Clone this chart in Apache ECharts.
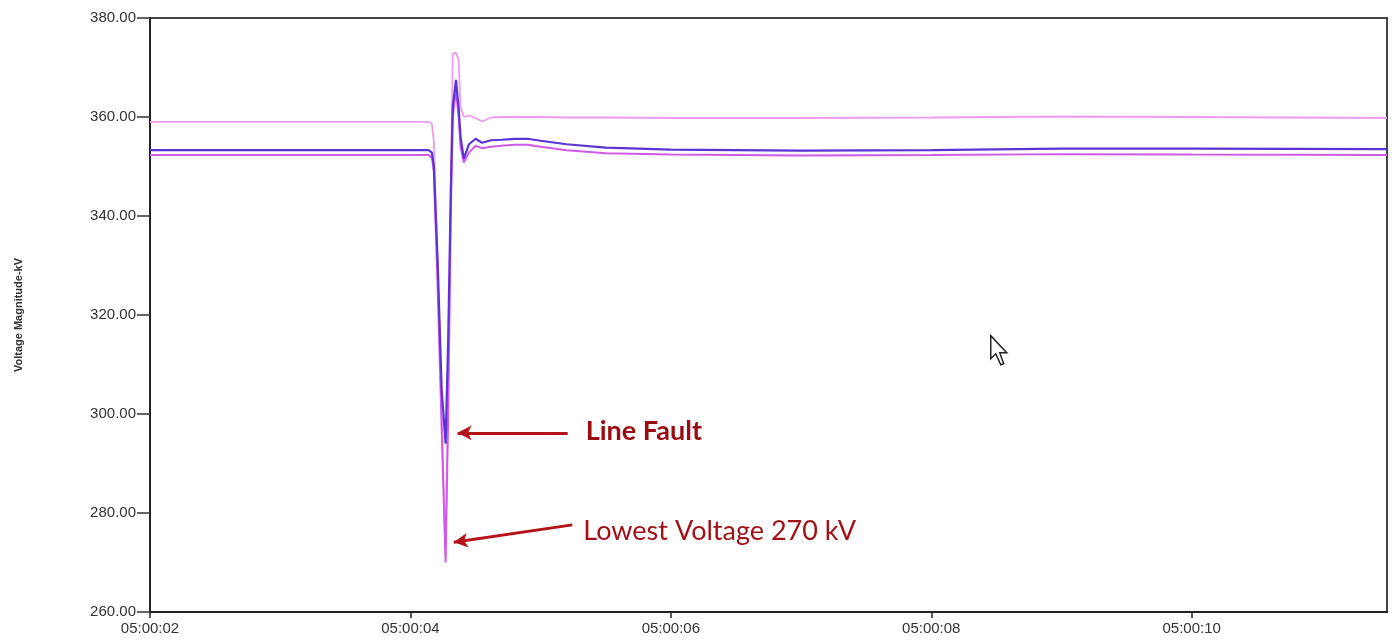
<!DOCTYPE html>
<html>
<head>
<meta charset="utf-8">
<script src="https://cdn.jsdelivr.net/npm/echarts@6/dist/echarts.min.js"></script>
<style>
html,body{margin:0;padding:0;background:#fff;}
#chart{width:1392px;height:641px;}
</style>
</head>
<body>
<div id="chart"></div>
<script>
// time in seconds after 05:00:00
const times = [2.00, 4.14, 4.165, 4.18, 4.21, 4.24, 4.27, 4.29, 4.31, 4.325, 4.35, 4.37, 4.385, 4.41, 4.45, 4.50, 4.55, 4.62, 4.70, 4.80, 4.90, 5.00, 5.20, 5.50, 6.00, 7.00, 8.00, 9.00, 10.00, 11.50];
const voltageUpper = [359.0, 359.0, 358.6, 355.0, 330.0, 300.0, 271.5, 305.0, 345.0, 372.8, 373.0, 371.5, 362.0, 360.0, 360.3, 359.8, 359.1, 359.9, 360.0, 360.0, 360.0, 360.0, 359.9, 359.9, 359.8, 359.8, 359.9, 360.1, 360.0, 359.8];
const voltageMiddle = [353.3, 353.3, 352.8, 350.0, 330.0, 305.0, 294.0, 315.0, 345.0, 362.0, 367.5, 362.0, 356.0, 351.6, 354.5, 355.6, 354.8, 355.3, 355.4, 355.6, 355.6, 355.2, 354.5, 353.8, 353.4, 353.2, 353.3, 353.6, 353.6, 353.5];
const voltageLower = [352.3, 352.3, 351.8, 349.0, 325.0, 297.0, 270.0, 300.0, 340.0, 360.0, 365.5, 360.0, 354.0, 350.8, 352.8, 354.2, 353.7, 354.0, 354.2, 354.4, 354.4, 354.0, 353.3, 352.7, 352.4, 352.2, 352.3, 352.5, 352.4, 352.3];
const yTicks = [260, 280, 300, 320, 340, 360, 380];
const xTickLabels = ['05:00:02', '05:00:04', '05:00:06', '05:00:08', '05:00:10'];
const annotationTexts = ['Line Fault', 'Lowest Voltage 270 kV'];
const annotationAnchors = [[5.346, 296.6], [5.328, 276.4]];
const arrowStarts = [[5.208, 296.2], [5.243, 277.6]];
const arrowEnds = [[4.362, 296.2], [4.333, 274.1]];

const chart = echarts.init(document.getElementById('chart'), null, {renderer: 'canvas'});
const pair = (vals) => times.map((t, i) => [t, vals[i]]);

const option = {
  animation: false,
  backgroundColor: '#ffffff',
  grid: {left: 150, right: 5, top: 18, bottom: 29, show: true, borderColor: '#444', borderWidth: 2, backgroundColor: 'transparent'},
  xAxis: {
    type: 'value', min: 2, max: 11.5, interval: 2,
    axisLine: {show: true, lineStyle: {color: '#222', width: 2}},
    axisTick: {show: true, length: 6, inside: false, lineStyle: {color: '#222', width: 1.5}},
    splitLine: {show: false},
    axisLabel: {
      showMaxLabel: false, margin: 9,
      fontFamily: 'Liberation Sans, Arial', fontSize: 15, color: '#333',
      formatter: (v) => { const i = Math.round((v - 2) / 2); return xTickLabels[i] || ''; }
    }
  },
  yAxis: {
    type: 'value', min: yTicks[0], max: yTicks[yTicks.length - 1], interval: 20,
    name: 'Voltage Magnitude-kV', nameLocation: 'middle', nameGap: 126, nameRotate: 90,
    nameTextStyle: {fontFamily: 'Liberation Sans, Arial', fontSize: 11, fontWeight: 'bold', color: '#333'},
    axisLine: {show: true, lineStyle: {color: '#222', width: 2}},
    axisTick: {show: true, length: 13, inside: false, lineStyle: {color: '#333', width: 1.5}},
    splitLine: {show: false},
    axisLabel: {margin: 14, fontFamily: 'Liberation Sans, Arial', fontSize: 15, color: '#333', formatter: (v) => v.toFixed(2)}
  },
  series: [
    {name: 'Upper phase', type: 'line', data: pair(voltageUpper), showSymbol: false, z: 2,
     lineStyle: {color: '#ee9cf0', width: 1.8}},
    {name: 'Lower phase', type: 'line', data: pair(voltageLower), showSymbol: false, z: 3,
     lineStyle: {color: '#cf5ae8', width: 2}},
    {name: 'Middle phase', type: 'line', data: pair(voltageMiddle), showSymbol: false, z: 4,
     lineStyle: {color: '#5a34d4', width: 2.2},
     markLine: {
       silent: true, symbol: ['none', 'arrow'], symbolSize: [11, 14], animation: false,
       label: {show: false},
       lineStyle: {color: '#b3141a', width: 3, type: 'solid'},
       emphasis: {disabled: true},
       data: arrowStarts.map((s, i) => [{coord: s}, {coord: arrowEnds[i]}])
     }},
    {name: 'Annotations', type: 'scatter', symbolSize: 0, silent: true, z: 10,
     itemStyle: {opacity: 1},
     data: annotationAnchors.map((a, i) => ({value: a, label: {
       show: true, position: 'right', distance: 0, formatter: annotationTexts[i],
       fontFamily: 'Lato, Open Sans, sans-serif', fontSize: 27,
       fontWeight: i === 0 ? 'bold' : 'normal', opacity: 1,
       color: i === 0 ? '#9a0c12' : '#a01218'
     }}))}
  ],
  graphic: [{
    type: 'polygon', left: 990, top: 335, z: 100,
    shape: {points: [[0,0],[0,23],[5,18],[10,29],[13,28],[9,17],[16,17]]},
    style: {fill: '#fff', stroke: '#222', lineWidth: 1.5}
  }]
};
chart.setOption(option);
</script>
</body>
</html>
